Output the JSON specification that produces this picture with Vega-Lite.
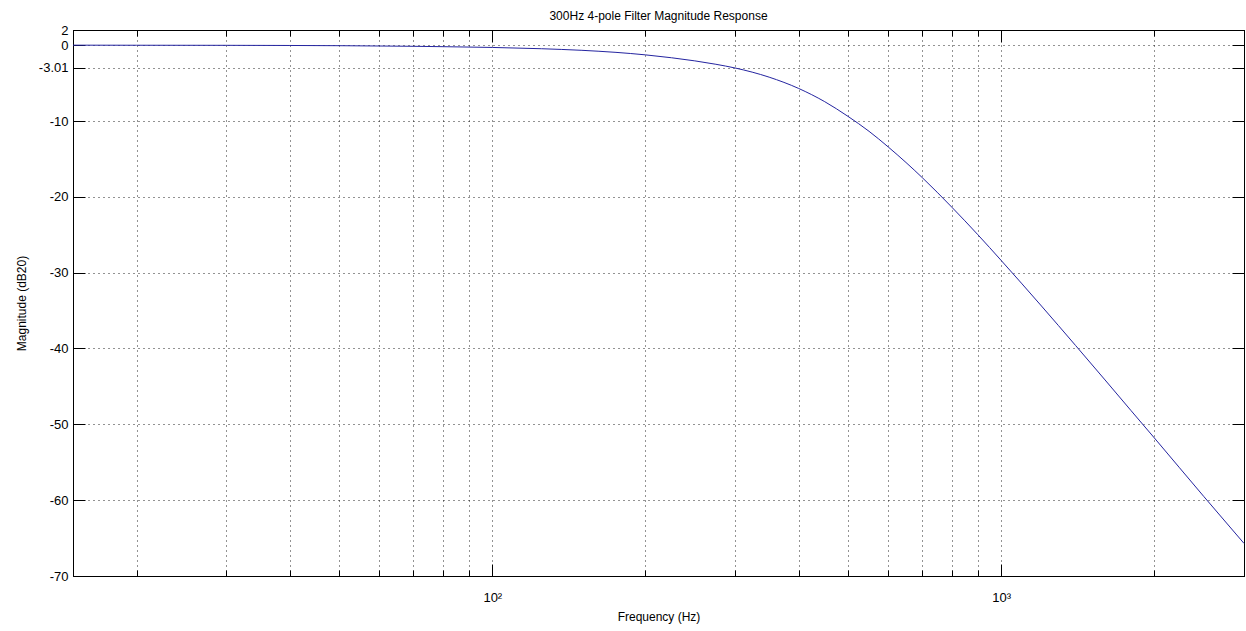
{
  "$schema": "https://vega.github.io/schema/vega-lite/v6.json",
  "autosize": "none",
  "width": 1171,
  "height": 546,
  "padding": {"left": 73, "top": 30, "right": 2, "bottom": 55},
  "background": "white",
  "title": {
    "text": "300Hz 4-pole Filter Magnitude Response",
    "font": "Liberation Sans",
    "fontSize": 12,
    "fontWeight": "normal",
    "color": "black",
    "offset": 1
  },
  "config": {
    "view": {"stroke": "black", "strokeWidth": 1},
    "axis": {
      "labelFont": "Liberation Sans",
      "labelFontSize": 13,
      "labelColor": "black",
      "titleFont": "Liberation Sans",
      "titleFontSize": 12,
      "titleFontWeight": "normal",
      "titleColor": "black",
      "domainColor": "black",
      "tickColor": "black",
      "tickWidth": 1,
      "gridColor": "black",
      "gridDash": [1, 4],
      "gridOpacity": 0.85,
      "gridWidth": 1
    }
  },
  "data": {
    "values": [
      {"freq": 15, "mag": 0},
      {"freq": 20, "mag": -0.01},
      {"freq": 30, "mag": -0.02},
      {"freq": 40, "mag": -0.04},
      {"freq": 50, "mag": -0.07},
      {"freq": 60, "mag": -0.11},
      {"freq": 70, "mag": -0.15},
      {"freq": 80, "mag": -0.2},
      {"freq": 90, "mag": -0.25},
      {"freq": 100, "mag": -0.3},
      {"freq": 125, "mag": -0.47},
      {"freq": 150, "mag": -0.68},
      {"freq": 175, "mag": -0.95},
      {"freq": 200, "mag": -1.28},
      {"freq": 225, "mag": -1.66},
      {"freq": 250, "mag": -2.07},
      {"freq": 275, "mag": -2.52},
      {"freq": 300, "mag": -3.01},
      {"freq": 350, "mag": -4.22},
      {"freq": 400, "mag": -5.71},
      {"freq": 450, "mag": -7.45},
      {"freq": 500, "mag": -9.39},
      {"freq": 550, "mag": -11.36},
      {"freq": 600, "mag": -13.43},
      {"freq": 650, "mag": -15.47},
      {"freq": 700, "mag": -17.48},
      {"freq": 800, "mag": -21.37},
      {"freq": 900, "mag": -25.0},
      {"freq": 1000, "mag": -28.39},
      {"freq": 1200, "mag": -34.4},
      {"freq": 1400, "mag": -39.6},
      {"freq": 1600, "mag": -44.15},
      {"freq": 1800, "mag": -48.2},
      {"freq": 2000, "mag": -51.8},
      {"freq": 2500, "mag": -59.5},
      {"freq": 3000, "mag": -65.7}
    ]
  },
  "layer": [
    {
      "mark": {"type": "line", "color": "#2424a0", "strokeWidth": 1, "interpolate": "monotone"},
      "encoding": {
        "x": {
          "field": "freq",
          "type": "quantitative",
          "scale": {"type": "log", "domain": [15, 3000], "nice": false},
          "axis": {
            "orient": "bottom",
            "title": "Frequency (Hz)",
            "titleY": 40,
            "titleBaseline": "middle",
            "values": [20, 30, 40, 50, 60, 70, 80, 90, 100, 200, 300, 400, 500, 600, 700, 800, 900, 1000, 2000, 3000],
            "labelExpr": "datum.value == 100 ? '10²' : datum.value == 1000 ? '10³' : ''",
            "tickSize": {"condition": {"test": "datum.value == 100 || datum.value == 1000", "value": -12}, "value": -6},
            "labelPadding": 27,
            "labelFlush": false,
            "labelOverlap": false,
            "grid": true
          }
        },
        "y": {
          "field": "mag",
          "type": "quantitative",
          "scale": {"domain": [-70, 2], "nice": false, "zero": false},
          "axis": {
            "orient": "left",
            "title": "Magnitude (dB20)",
            "titleAngle": -90,
            "titleX": -52,
            "titleY": 273,
            "titleAlign": "center",
            "titleBaseline": "middle",
            "values": [2, 0, -3.01, -10, -20, -30, -40, -50, -60, -70],
            "labelExpr": "'' + datum.value",
            "tickSize": -12,
            "labelPadding": 17,
            "labelFlush": false,
            "labelOverlap": false,
            "grid": true
          }
        }
      }
    },
    {
      "mark": {"type": "line", "opacity": 0, "interpolate": "monotone"},
      "encoding": {
        "x": {
          "field": "freq",
          "type": "quantitative",
          "axis": {
            "orient": "top",
            "title": null,
            "labels": false,
            "grid": false,
            "values": [20, 30, 40, 50, 60, 70, 80, 90, 100, 200, 300, 400, 500, 600, 700, 800, 900, 1000, 2000, 3000],
            "tickSize": {"condition": {"test": "datum.value == 100 || datum.value == 1000", "value": -12}, "value": -6}
          }
        },
        "y": {
          "field": "mag",
          "type": "quantitative",
          "axis": {
            "orient": "right",
            "title": null,
            "labels": false,
            "grid": false,
            "values": [2, 0, -3.01, -10, -20, -30, -40, -50, -60, -70],
            "tickSize": -12
          }
        }
      }
    }
  ],
  "resolve": {"axis": {"x": "independent", "y": "independent"}}
}
